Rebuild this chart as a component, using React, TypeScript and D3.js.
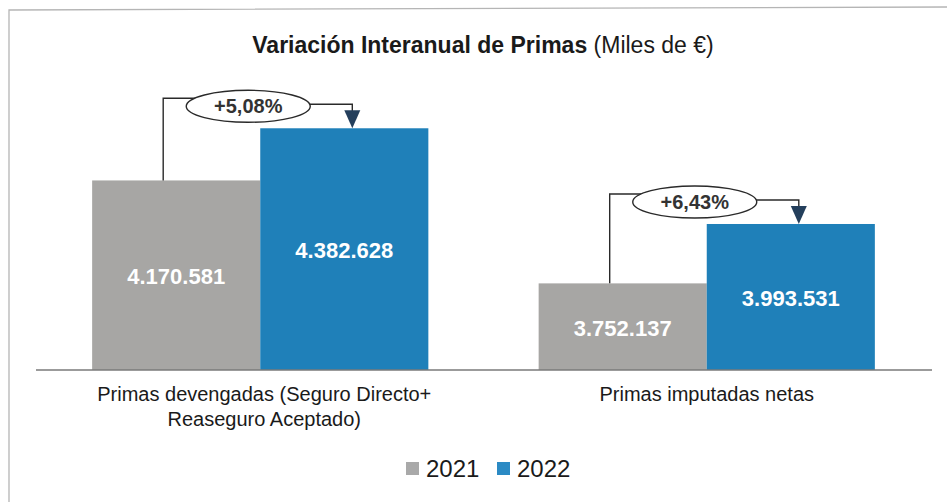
import * as d3 from "d3";

// datos
const categories = [
  ["Primas devengadas (Seguro Directo+", "Reaseguro Aceptado)"],
  ["Primas imputadas netas"],
];
const years = ["2021", "2022"];
const values2021 = [4170581, 3752137];
const values2022 = [4382628, 3993531];
const variations = ["+5,08%", "+6,43%"];

const colors: Record<string, string> = { "2021": "#a7a6a4", "2022": "#1f80b9" };
const legendColors: Record<string, string> = { "2021": "#a9a9a9", "2022": "#2b8ac4" };

const W = 947;
const H = 502;
const arial = "'Liberation Sans', Arial, sans-serif";

const esLocale = d3.formatLocale({ decimal: ",", thousands: ".", grouping: [3], currency: ["", " €"] });
const fmt = esLocale.format(",d");

export default function App() {
  const baseline = 370;
  const x = d3.scaleBand<number>()
    .domain(categories.map((_, i) => i))
    .range([37, 930])
    .paddingInner(0.247)
    .paddingOuter(0.1235);
  const xs = d3.scaleBand<string>().domain(years).range([0, x.bandwidth()]);
  const y = d3.scaleLinear().domain([3400000, 4400000]).range([baseline, 124]);

  const seriesVals: Record<string, number[]> = { "2021": values2021, "2022": values2022 };

  return (
    <svg width={W} height={H} style={{ display: "block", position: "absolute", left: 0, top: 0, background: "#fff" }}>
      {/* marco */}
      <path d={`M9,${H + 5} L9,10 L${W + 5},7`} fill="none" stroke="#b5b5b5" strokeWidth={1.3} />

      {/* título */}
      <text x={483} y={53} textAnchor="middle" fontFamily={arial} fontSize={23} fill="#1a1a1a">
        <tspan fontWeight="bold">Variación Interanual de Primas</tspan>
        <tspan> (Miles de €)</tspan>
      </text>

      {/* barras */}
      {categories.map((_, i) => (
        <g key={i} transform={`translate(${x(i)},0)`}>
          {years.map((yr) => {
            const v = seriesVals[yr][i];
            const top = y(v);
            return (
              <g key={yr}>
                <rect x={xs(yr)} y={top} width={xs.bandwidth()} height={baseline - top} fill={colors[yr]} />
                <text
                  x={(xs(yr) as number) + xs.bandwidth() / 2}
                  y={(top + baseline) / 2 + 9}
                  textAnchor="middle"
                  fontFamily={arial}
                  fontWeight="bold"
                  fontSize={22}
                  fill="#fff"
                >
                  {fmt(v)}
                </text>
              </g>
            );
          })}
        </g>
      ))}

      {/* eje */}
      <line x1={36} x2={932} y1={baseline} y2={baseline} stroke="#7a7a7a" strokeWidth={1.5} />

      {/* etiquetas de categoría */}
      {categories.map((lines, i) => {
        const cx = (x(i) as number) + x.bandwidth() / 2 + (i === 0 ? 4 : 0);
        return (
          <text key={i} x={cx} y={401} textAnchor="middle" fontFamily={arial} fontSize={20} fill="#1a1a1a">
            {lines.map((l, j) => (
              <tspan key={j} x={cx} dy={j === 0 ? 0 : 25}>{l}</tspan>
            ))}
          </text>
        );
      })}

      {/* conectores de variación */}
      {categories.map((_, i) => {
        const gx = x(i) as number;
        const grayTop = y(values2021[i]);
        const blueTop = y(values2022[i]);
        const lx = gx + xs.bandwidth() / 2 - 13;
        const rx = gx + xs.bandwidth() * 1.5 + 8;
        const ly = blueTop - 30;
        const ry = ly + 6;
        const ecx = gx + xs.bandwidth() - 12;
        const ecy = ly + 8;
        const erx = 62;
        const ery = 16;
        return (
          <g key={i}>
            <path d={`M${lx},${grayTop} L${lx},${ly} L${ecx - 30},${ly}`} fill="none" stroke="#2a2a2a" strokeWidth={1.4} />
            <path d={`M${ecx + erx - 2},${ry} L${rx},${ry} L${rx},${blueTop - 14}`} fill="none" stroke="#2a2a2a" strokeWidth={1.4} />
            <path d={`M${rx - 8},${blueTop - 18} L${rx + 8},${blueTop - 18} L${rx},${blueTop} Z`} fill="#243f5c" />
            <ellipse cx={ecx} cy={ecy} rx={erx} ry={ery} fill="#fff" stroke="#2a2a2a" strokeWidth={1.4} />
            <text x={ecx} y={ecy + 7} textAnchor="middle" fontFamily={arial} fontWeight="bold" fontSize={20} fill="#333">
              {variations[i]}
            </text>
          </g>
        );
      })}

      {/* leyenda */}
      {years.map((yr, k) => {
        const lx0 = 406 + k * 91;
        return (
          <g key={yr}>
            <rect x={lx0} y={462} width={13} height={13} fill={legendColors[yr]} />
            <text x={lx0 + 20} y={477} fontFamily={arial} fontSize={24} fill="#1a1a1a">{yr}</text>
          </g>
        );
      })}
    </svg>
  );
}
